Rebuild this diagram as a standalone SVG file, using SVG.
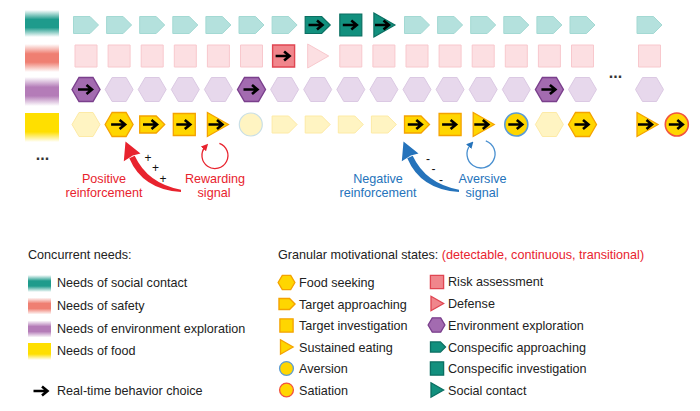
<svg xmlns="http://www.w3.org/2000/svg" xmlns:xlink="http://www.w3.org/1999/xlink" width="700" height="411" viewBox="0 0 700 411">
<style>
text{font-family:"Liberation Sans",Arial,sans-serif;font-size:12.6px;fill:#222}
.red{fill:#e8232e}
.blue{fill:#2573bb}
.sign{font-size:12px;fill:#111}
.tl{fill:#b4e1dd;stroke:#a3d9d3;stroke-width:1}
.td{fill:#12907e;stroke:#0b6f62;stroke-width:1.2}
.pl{fill:#fcdfe2;stroke:#f8c8cd;stroke-width:1}
.pd{fill:#f0868c;stroke:#e04652;stroke-width:1.4}
.vl{fill:#e7d8ec;stroke:#dbc9e3;stroke-width:1}
.vd{fill:#a36bb0;stroke:#7a3f8c;stroke-width:1.4}
.yl{fill:#fff4c2;stroke:#fdeaa6;stroke-width:1}
.yd{fill:#ffd600;stroke:#f4a200;stroke-width:1.3}
.ya{fill:#ffd600;stroke:#5b9bd5;stroke-width:1.6}
.ys{fill:#ffd600;stroke:#f2533f;stroke-width:1.6}
.yc{fill:#fff4c2;stroke:#c9dfe6;stroke-width:1.2}
.lg .yd,.lg .ya,.lg .ys,.lg .pd,.lg .vd,.lg .td{stroke-width:2.2}
.arrow{fill:none;stroke:#000;stroke-width:2.6}
</style>
<defs>
<path id="P" d="M-12.5,-8.5 H4 L12.5,0 L4,8.5 H-12.5 Z"/>
<path id="S" d="M-11,-11 H11 V11 H-11 Z"/>
<path id="T" d="M-10,-12 L11,0 L-10,12 Z"/>
<path id="H" d="M-14,0 L-7,-12 H7 L14,0 L7,12 H-7 Z"/>
<circle id="C" r="11.5"/>
<path id="A" class="arrow" d="M-8,0 H5 M0.5,-4.6 L6,0 L0.5,4.6"/>
<linearGradient id="gT" x1="0" y1="0" x2="0" y2="1">
<stop offset="0" stop-color="#1e9b8c" stop-opacity="0"/><stop offset="0.35" stop-color="#1e9b8c"/><stop offset="0.65" stop-color="#1e9b8c"/><stop offset="1" stop-color="#1e9b8c" stop-opacity="0"/>
</linearGradient>
<linearGradient id="gP" x1="0" y1="0" x2="0" y2="1">
<stop offset="0" stop-color="#ef7f72" stop-opacity="0"/><stop offset="0.35" stop-color="#ef7f72"/><stop offset="0.65" stop-color="#ef7f72"/><stop offset="1" stop-color="#ef7f72" stop-opacity="0"/>
</linearGradient>
<linearGradient id="gV" x1="0" y1="0" x2="0" y2="1">
<stop offset="0" stop-color="#b47cb8" stop-opacity="0"/><stop offset="0.35" stop-color="#b47cb8"/><stop offset="0.65" stop-color="#b47cb8"/><stop offset="1" stop-color="#b47cb8" stop-opacity="0"/>
</linearGradient>
<linearGradient id="gY" x1="0" y1="0" x2="0" y2="1">
<stop offset="0" stop-color="#ffdf00"/><stop offset="0.65" stop-color="#ffdf00"/><stop offset="1" stop-color="#ffdf00" stop-opacity="0"/>
</linearGradient>
<marker id="mR" viewBox="0 0 10 10" refX="4" refY="5" markerWidth="7" markerHeight="7" markerUnits="userSpaceOnUse" orient="auto"><path d="M0,0 L10,5 L0,10 Z" fill="#e8232e"/></marker>
<marker id="mB" viewBox="0 0 10 10" refX="4" refY="5" markerWidth="7" markerHeight="7" markerUnits="userSpaceOnUse" orient="auto"><path d="M0,0 L10,5 L0,10 Z" fill="#2573bb"/></marker>
</defs>
<rect width="700" height="411" fill="#fff"/>

<g id="need-bars">
<rect x="25" y="10" width="34" height="27" fill="url(#gT)"/>
<rect x="25" y="44" width="34" height="28" fill="url(#gP)"/>
<rect x="25" y="77" width="34" height="29" fill="url(#gV)"/>
<rect x="25" y="113" width="34" height="29" fill="url(#gY)"/>
</g>

<g id="row-social">
<g id="s0"><use href="#P" x="86" y="25" class="tl"/></g>
<g id="s1"><use href="#P" x="119.1" y="25" class="tl"/></g>
<g id="s2"><use href="#P" x="152.2" y="25" class="tl"/></g>
<g id="s3"><use href="#P" x="185.3" y="25" class="tl"/></g>
<g id="s4"><use href="#P" x="218.4" y="25" class="tl"/></g>
<g id="s5"><use href="#P" x="251.5" y="25" class="tl"/></g>
<g id="s6"><use href="#P" x="284.6" y="25" class="tl"/></g>
<g id="s7"><use href="#P" x="317.7" y="25" class="td"/><use href="#A" x="316.5" y="25"/></g>
<g id="s8"><use href="#S" x="350.8" y="25" class="td"/><use href="#A" x="350.8" y="25"/></g>
<g id="s9"><use href="#T" x="383.9" y="25" class="td"/><use href="#A" x="383" y="25"/></g>
<g id="s10"><use href="#P" x="417" y="25" class="tl"/></g>
<g id="s11"><use href="#P" x="450.1" y="25" class="tl"/></g>
<g id="s12"><use href="#P" x="483.2" y="25" class="tl"/></g>
<g id="s13"><use href="#P" x="516.3" y="25" class="tl"/></g>
<g id="s14"><use href="#P" x="549.4" y="25" class="tl"/></g>
<g id="s15"><use href="#P" x="582.5" y="25" class="tl"/></g>
<g id="s17"><use href="#P" x="649.5" y="25" class="tl"/></g>
</g>

<g id="row-safety">
<g id="f0"><use href="#S" x="86" y="56" class="pl"/></g>
<g id="f1"><use href="#S" x="119.1" y="56" class="pl"/></g>
<g id="f2"><use href="#S" x="152.2" y="56" class="pl"/></g>
<g id="f3"><use href="#S" x="185.3" y="56" class="pl"/></g>
<g id="f4"><use href="#S" x="218.4" y="56" class="pl"/></g>
<g id="f5"><use href="#S" x="251.5" y="56" class="pl"/></g>
<g id="f6"><use href="#S" x="283.6" y="56" class="pd"/><use href="#A" x="283.6" y="56"/></g>
<g id="f7"><use href="#T" x="317.7" y="56" class="pl"/></g>
<g id="f8"><use href="#S" x="350.8" y="56" class="pl"/></g>
<g id="f9"><use href="#S" x="383.9" y="56" class="pl"/></g>
<g id="f10"><use href="#S" x="417" y="56" class="pl"/></g>
<g id="f11"><use href="#S" x="450.1" y="56" class="pl"/></g>
<g id="f12"><use href="#S" x="483.2" y="56" class="pl"/></g>
<g id="f13"><use href="#S" x="516.3" y="56" class="pl"/></g>
<g id="f14"><use href="#S" x="549.4" y="56" class="pl"/></g>
<g id="f15"><use href="#S" x="582.5" y="56" class="pl"/></g>
<g id="f17"><use href="#S" x="649.5" y="56" class="pl"/></g>
</g>

<g id="row-exploration">
<g id="e0"><use href="#H" x="86" y="89.5" class="vd"/><use href="#A" x="86" y="89.5"/></g>
<g id="e1"><use href="#H" x="119.1" y="89.5" class="vl"/></g>
<g id="e2"><use href="#H" x="152.2" y="89.5" class="vl"/></g>
<g id="e3"><use href="#H" x="185.3" y="89.5" class="vl"/></g>
<g id="e4"><use href="#H" x="218.4" y="89.5" class="vl"/></g>
<g id="e5"><use href="#H" x="251.5" y="89.5" class="vd"/><use href="#A" x="251.5" y="89.5"/></g>
<g id="e6"><use href="#H" x="284.6" y="89.5" class="vl"/></g>
<g id="e7"><use href="#H" x="317.7" y="89.5" class="vl"/></g>
<g id="e8"><use href="#H" x="350.8" y="89.5" class="vl"/></g>
<g id="e9"><use href="#H" x="383.9" y="89.5" class="vl"/></g>
<g id="e10"><use href="#H" x="417" y="89.5" class="vl"/></g>
<g id="e11"><use href="#H" x="450.1" y="89.5" class="vl"/></g>
<g id="e12"><use href="#H" x="483.2" y="89.5" class="vl"/></g>
<g id="e13"><use href="#H" x="516.3" y="89.5" class="vl"/></g>
<g id="e14"><use href="#H" x="549.4" y="89.5" class="vd"/><use href="#A" x="549.4" y="89.5"/></g>
<g id="e15"><use href="#H" x="582.5" y="89.5" class="vl"/></g>
<g id="e17"><use href="#H" x="649.5" y="89.5" class="vl"/></g>
</g>

<g id="row-food">
<g id="y0"><use href="#H" x="86" y="124.5" class="yl"/></g>
<g id="y1"><use href="#H" x="119.1" y="124.5" class="yd"/><use href="#A" x="119.1" y="124.5"/></g>
<g id="y2"><use href="#P" x="152.2" y="124.5" class="yd"/><use href="#A" x="151" y="124.5"/></g>
<g id="y3"><use href="#S" x="184.3" y="124.5" class="yd"/><use href="#A" x="184.3" y="124.5"/></g>
<g id="y4"><use href="#T" x="217.4" y="124.5" class="yd"/><use href="#A" x="216.5" y="124.5"/></g>
<g id="y5"><use href="#C" x="250.8" y="124.5" class="yc"/></g>
<g id="y6"><use href="#P" x="284.6" y="124.5" class="yl"/></g>
<g id="y7"><use href="#P" x="317.7" y="124.5" class="yl"/></g>
<g id="y8"><use href="#P" x="350.8" y="124.5" class="yl"/></g>
<g id="y9"><use href="#P" x="383.9" y="124.5" class="yl"/></g>
<g id="y10"><use href="#P" x="417" y="124.5" class="yd"/><use href="#A" x="415.8" y="124.5"/></g>
<g id="y11"><use href="#S" x="450.1" y="124.5" class="yd"/><use href="#A" x="450.1" y="124.5"/></g>
<g id="y12"><use href="#T" x="483.2" y="124.5" class="yd"/><use href="#A" x="482.3" y="124.5"/></g>
<g id="y13"><use href="#C" x="516.3" y="124.5" class="ya"/><use href="#A" x="516.3" y="124.5"/></g>
<g id="y14"><use href="#H" x="549.4" y="124.5" class="yl"/></g>
<g id="y15"><use href="#H" x="582.5" y="124.5" class="yd"/><use href="#A" x="582.5" y="124.5"/></g>
<g id="y17"><use href="#T" x="647" y="124.5" class="yd"/><use href="#A" x="646" y="124.5"/></g>
<g id="y18"><use href="#C" x="676.8" y="124.5" class="ys"/><use href="#A" x="676.8" y="124.5"/></g>
</g>

<g id="ellipses">
<text x="615.5" y="77.5" text-anchor="middle" style="font-size:16px;font-weight:bold;fill:#333">...</text>
<text x="42.5" y="159.5" text-anchor="middle" style="font-size:16px;font-weight:bold;fill:#333">...</text>
</g>

<g id="connectors">
<g id="positive-reinforcement">
<path d="M181,192 Q142.5,189.5 129.3,158.2 L134.7,155.8 Q147.5,183.5 181,189.8 Z" fill="#e8232e"/>
<path d="M125.5,141.5 L140.5,153.4 L132.8,155.6 L123.8,161.2 Z" fill="#e8232e"/>
</g>
<g id="rewarding-loop">
<path d="M219.4,143.3 A13,13 0 1 1 205.3,146.8" fill="none" stroke="#e8232e" stroke-width="1.3" marker-end="url(#mR)"/>
</g>
<g id="negative-reinforcement">
<path d="M459,192 Q420.5,189.5 407.3,158.2 L412.7,155.8 Q425.5,183.5 459,189.8 Z" fill="#2573bb"/>
<path d="M403.5,141.5 L418.5,153.4 L410.8,155.6 L401.8,161.2 Z" fill="#2573bb"/>
</g>
<g id="aversive-loop">
<path d="M485.8,140.8 A14,14 0 1 1 470.6,144.6" fill="none" stroke="#4a90d0" stroke-width="1.3" marker-end="url(#mB)"/>
</g>
</g>

<g id="signs">
<text class="sign" x="148" y="161.5" text-anchor="middle">+</text>
<text class="sign" x="155.5" y="172" text-anchor="middle">+</text>
<text class="sign" x="163" y="182.5" text-anchor="middle">+</text>
<text class="sign" x="428" y="162.5" text-anchor="middle">-</text>
<text class="sign" x="433.5" y="173" text-anchor="middle">-</text>
<text class="sign" x="441" y="183.5" text-anchor="middle">-</text>
</g>

<g id="labels">
<text class="red" x="104" y="182.5" text-anchor="middle">Positive</text>
<text class="red" x="104" y="197" text-anchor="middle">reinforcement</text>
<text class="red" x="215" y="182.5" text-anchor="middle">Rewarding</text>
<text class="red" x="214" y="197" text-anchor="middle">signal</text>
<text class="blue" x="378" y="182.5" text-anchor="middle">Negative</text>
<text class="blue" x="378" y="197" text-anchor="middle">reinforcement</text>
<text class="blue" x="482.5" y="182.5" text-anchor="middle">Aversive</text>
<text class="blue" x="482" y="197" text-anchor="middle">signal</text>
</g>

<g id="legend-needs">
<text x="28" y="259">Concurrent needs:</text>
<rect x="28" y="275" width="23" height="17" fill="url(#gT)"/>
<text x="57" y="287">Needs of social contact</text>
<rect x="28" y="297.5" width="23" height="17" fill="url(#gP)"/>
<text x="57" y="310">Needs of safety</text>
<rect x="28" y="320.5" width="23" height="17" fill="url(#gV)"/>
<text x="57" y="332.7">Needs of environment exploration</text>
<rect x="28" y="343" width="23" height="17" fill="url(#gY)"/>
<text x="57" y="355">Needs of food</text>
<use href="#A" x="41.5" y="391"/>
<text x="57" y="395">Real-time behavior choice</text>
</g>

<g id="legend-states" class="lg">
<text x="278" y="259">Granular motivational states: <tspan class="red">(detectable, continuous, transitional)</tspan></text>
<use href="#H" transform="translate(286.5,282.5) scale(0.6)" class="yd"/>
<text x="299" y="287">Food seeking</text>
<use href="#P" transform="translate(287,304) scale(0.64)" class="yd"/>
<text x="299" y="308.7">Target approaching</text>
<use href="#S" transform="translate(286.5,325.5) scale(0.6)" class="yd"/>
<text x="299" y="330">Target investigation</text>
<use href="#T" transform="translate(286.5,347) scale(0.6)" class="yd"/>
<text x="299" y="351.7">Sustained eating</text>
<use href="#C" transform="translate(286.5,368.5) scale(0.6)" class="ya"/>
<text x="299" y="373.3">Aversion</text>
<use href="#C" transform="translate(286.5,390) scale(0.6)" class="ys"/>
<text x="299" y="394.7">Satiation</text>
<use href="#S" transform="translate(437,282) scale(0.6)" class="pd"/>
<text x="448" y="286">Risk assessment</text>
<use href="#T" transform="translate(437,303.5) scale(0.6)" class="pd"/>
<text x="448" y="308">Defense</text>
<use href="#H" transform="translate(436.5,325) scale(0.6)" class="vd"/>
<text x="448" y="330">Environment exploration</text>
<use href="#P" transform="translate(438,347) scale(0.6)" class="td"/>
<text x="448" y="351.7">Conspecific approaching</text>
<use href="#S" transform="translate(437,368.5) scale(0.6)" class="td"/>
<text x="448" y="373.3">Conspecific investigation</text>
<use href="#T" transform="translate(437,390) scale(0.6)" class="td"/>
<text x="448" y="394.7">Social contact</text>
</g>
</svg>
